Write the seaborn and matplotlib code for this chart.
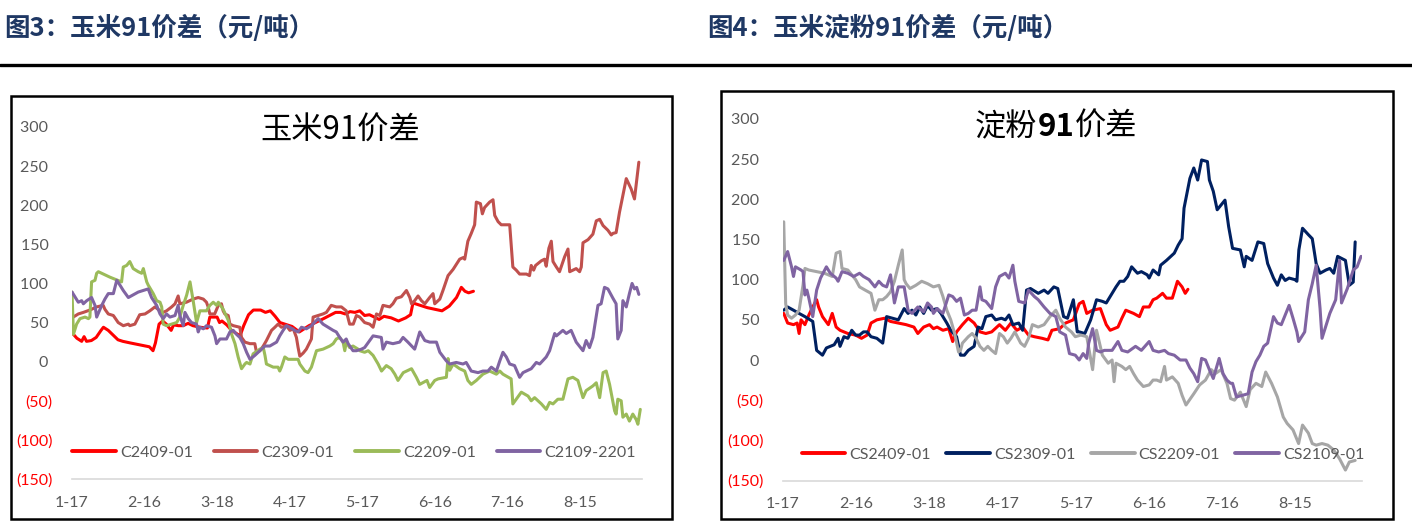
import pandas as pd
import matplotlib
matplotlib.use('Agg')
import matplotlib.pyplot as plt
from matplotlib.lines import Line2D
from matplotlib.patches import Rectangle
import seaborn as sns

sns.set_style('white')
plt.rcParams['font.family'] = ['Lato', 'Noto Sans CJK SC', 'DejaVu Sans']
plt.rcParams['axes.unicode_minus'] = False

# x axis: days counted from 1-17, ticks every 30 days
date_ticks = [0, 30, 60, 90, 120, 150, 180, 210]
date_labels = ['1-17', '2-16', '3-18', '4-17', '5-17', '6-16', '7-16', '8-15']
y_ticks = [-150, -100, -50, 0, 50, 100, 150, 200, 250, 300]

# ---- 图3 玉米91价差 ----
corn_names = ['C2409-01', 'C2309-01', 'C2209-01', 'C2109-2201']
corn_colors = ['#FF0000', '#C0504D', '#9BBB59', '#8064A2']

c2409_day = [0, 2, 4, 5, 6, 8, 10, 12, 13, 15,
             17, 19, 21, 24, 32, 33.5, 34.5, 36, 37.5, 39,
             41, 42, 44, 46, 48, 50, 53, 56, 57, 60,
             61, 62, 64, 66, 68, 69.5, 71, 73, 75, 78,
             80, 82, 84, 86, 88, 91, 94, 98, 104, 109,
             111, 113, 115, 117, 119, 121, 123, 125, 127, 129,
             132, 135, 138, 140, 141, 143, 147, 150, 153, 156,
             159, 161, 162.5, 164, 166]
c2409_val = [37, 30, 26, 32, 26, 27, 31, 40, 44, 40,
             34, 28, 26, 24, 19, 14, 24, 48, 52, 48,
             40, 47, 46, 46, 49, 46, 44, 43, 57, 57,
             50, 52, 47, 40, 36, 33, 46, 60, 66, 66,
             63, 65, 58, 50, 48, 45, 38, 46, 55, 63,
             63, 61, 64, 63, 65, 59, 60, 57, 54, 58,
             56, 52, 56, 60, 75, 73, 69, 67, 65, 71,
             82, 95, 90, 88, 90]

c2309_day = [0, 2.6, 4.7, 7.4, 10.2, 12.9, 13.6, 15, 17.1, 19.1,
             21.2, 23.3, 23.9, 26, 28, 30.2, 32.2, 34.3, 36.4, 37.7,
             39.1, 41.2, 42.6, 43.9, 44.6, 47.3, 50.1, 52.2, 54.3, 55.6,
             56.3, 57, 59, 60.5, 61.8, 62.5, 63.2, 64.6, 65.3, 66.7,
             69.4, 70.1, 71.5, 73.6, 75.6, 76.3, 77.7, 79.1, 80.4, 82.5,
             83.9, 85.2, 86.6, 88.7, 90.1, 91.5, 92.8, 93.5, 94.2, 95.6,
             96.9, 99, 99.7, 103.8, 105.2, 107.2, 109.3, 111.4, 113.4, 114.8,
             116.3, 117.6, 119, 121, 123.1, 124.5, 125.9, 127.3, 128.6, 131.4,
             132.7, 134.1, 136.2, 138.3, 139.7, 140.4, 141.7, 143.1, 144.5, 145.9,
             147.9, 149.3, 150, 152.1, 153.4, 155.5, 157.6, 160.3, 161.7, 162.4,
             163.7, 165.1, 166.5, 167.2, 168.9, 169.7, 170.6, 172.7, 174.1, 174.8,
             176.2, 177.5, 181, 182.3, 183.7, 185.1, 187.9, 189.2, 189.9, 190.9,
             191.7, 194.1, 195.4, 196.1, 197.2, 198.2, 198.9, 200.3, 201.6, 203.7,
             205.1, 205.8, 207.1, 208.5, 209.9, 210.6, 211.3, 213.4, 215.4, 216.8,
             218.2, 219.6, 221.6, 223, 223.7, 225, 226.4, 229.2, 231.2, 232.6,
             234.4]
c2309_val = [56, 61, 63, 66, 70, 72, 67, 61, 59, 50,
             46, 48, 46, 48, 60, 61, 65, 70, 65, 63,
             65, 70, 74, 84, 74, 76, 80, 82, 80, 76,
             70, 61, 61, 72, 74, 65, 61, 59, 48, 46,
             44, 31, 25, 23, 23, 12, 14, 20, 27, 40,
             44, 48, 44, 46, 40, 42, 31, 18, 7, 11,
             16, 29, 57, 61, 63, 72, 70, 70, 65, 48,
             48, 59, 57, 50, 48, 44, 61, 59, 72, 70,
             74, 81, 83, 91, 82, 74, 78, 84, 78, 74,
             82, 87, 74, 80, 91, 110, 118, 131, 133, 131,
             154, 164, 175, 204, 202, 189, 197, 204, 207, 187,
             179, 175, 175, 121, 117, 112, 112, 110, 123, 117,
             123, 129, 131, 122, 145, 154, 128, 121, 115, 134,
             144, 115, 117, 119, 115, 121, 152, 156, 163, 180,
             182, 174, 168, 162, 164, 165, 191, 234, 221, 208,
             255]

c2209_day = [0, 0.6, 1.9, 3.3, 5.4, 6.8, 7.4, 8.1, 9.5, 10.2,
             10.9, 15.7, 20.5, 21.2, 22.6, 23.9, 25.3, 27.4, 28.8, 29.5,
             30.9, 31.5, 33.6, 35, 36.4, 37.1, 37.7, 39.1, 41.2, 43.3,
             44.6, 46, 47.4, 48.8, 50.1, 51.5, 52.9, 55.6, 57, 58.4,
             59.8, 60.5, 62.5, 64.6, 66, 67.4, 68.7, 70.1, 71.5, 72.2,
             73.6, 74.9, 77.7, 79.1, 79.8, 80.4, 83.2, 85.2, 85.9, 86.6,
             88, 89.4, 91.5, 93.5, 94.2, 96.3, 97.6, 99, 101.1, 103.8,
             106.6, 108, 109.3, 110.7, 112.1, 112.8, 113.4, 114.8, 116.2, 118.3,
             119, 121, 122.5, 124.5, 126.6, 128, 130, 132, 133.5, 134.8,
             137, 140.4, 142.4, 143.8, 146.8, 147.9, 150, 151.4, 154.8, 155.5,
             156.2, 157.6, 160.3, 162.4, 163.7, 165.1, 167.2, 169.9, 172.7, 175.5,
             176.9, 178.2, 181.6, 182.3, 183.7, 185.8, 188.6, 189.9, 191.3, 194.1,
             196.1, 197.5, 198.9, 200.9, 203, 205.1, 207.1, 209.2, 211.3, 212.6,
             215.4, 216.8, 218.2, 219.6, 220.9, 222.3, 224.4, 225, 225.7, 227.1,
             227.8, 229.2, 230.5, 231.9, 233.3, 234, 235]
c2209_val = [89, 35, 48, 55, 57, 55, 57, 102, 104, 113,
             115, 108, 102, 121, 123, 128, 119, 115, 113, 119,
             102, 98, 87, 78, 76, 70, 48, 46, 48, 50,
             57, 72, 85, 102, 78, 50, 65, 65, 72, 76,
             72, 76, 67, 53, 35, 23, 6, -9, -3, -1,
             -3, 10, 16, 18, 8, -3, -7, -7, -12, -7,
             6, 3, 3, 3, -3, -12, -14, -7, 14, 16,
             20, 23, 29, 31, 25, 14, 25, 18, 20, 16,
             14, 12, 14, 8, -3, -12, -5, -9, -16, -24,
             -14, -9, -20, -29, -24, -33, -24, -22, -20, 4,
             -11, -3, -9, -12, -24, -29, -24, -16, -12, -16,
             -12, -16, -22, -54, -48, -39, -44, -50, -46, -54,
             -61, -52, -54, -48, -48, -22, -20, -24, -46, -37,
             -31, -27, -46, -14, -12, -29, -63, -67, -48, -50,
             -71, -67, -76, -67, -74, -80, -61]

c2109_day = [0, 2.6, 4, 4.7, 6.1, 8.1, 9.5, 10.2, 12.3, 13.6,
             15, 17.1, 18.5, 19.8, 21.2, 23.3, 27.4, 31.5, 32.9, 35,
             36.4, 37.7, 39.1, 40.5, 42.6, 43.9, 44.6, 46, 46.7, 48.1,
             49.4, 51.5, 52.2, 52.9, 54.3, 55.6, 57.7, 59.1, 59.8, 61.2,
             63.9, 65.3, 66.7, 68, 69.4, 70.8, 72.2, 73.6, 75.6, 77.7,
             79.8, 81.8, 84.6, 85.9, 87.3, 88.7, 90.1, 92.1, 93.5, 94.9,
             96.9, 99, 101.8, 103.8, 105.9, 108, 109.3, 110.7, 112.1, 113.4,
             114.2, 116.2, 117.6, 119.7, 121, 123.1, 124.5, 127.9, 128.6, 130,
             132.7, 135.5, 136.9, 138.9, 141.7, 142.4, 143.8, 145.9, 147.9, 150.7,
             152.1, 154.8, 156.2, 158.9, 161.7, 163, 165.1, 167.9, 169.9, 172,
             173.4, 175.5, 176.9, 178.2, 179.6, 181, 183, 185.1, 186.5, 187.9,
             189.9, 192, 193.4, 196.1, 197.5, 199.6, 200.3, 203, 204.4, 206.4,
             208.5, 211.3, 212.6, 214, 215.4, 217.5, 218.8, 220.2, 221.6, 223.7,
             225, 225.7, 227.1, 227.8, 229.2, 230.5, 231.6, 232.6, 233.5, 234.4]
c2109_val = [89, 76, 78, 74, 78, 82, 72, 57, 72, 80,
             87, 87, 104, 98, 91, 82, 89, 93, 82, 72,
             61, 55, 61, 57, 59, 72, 59, 46, 63, 55,
             50, 48, 38, 44, 42, 46, 44, 33, 23, 29,
             29, 38, 40, 35, 31, 23, 12, 3, 8, 14,
             20, 20, 25, 33, 40, 46, 44, 40, 38, 44,
             42, 46, 55, 48, 44, 40, 38, 31, 25, 29,
             23, 14, 14, 16, 18, 27, 33, 31, 16, 25,
             23, 25, 31, 25, 16, 23, 38, 27, 25, 25,
             12, 1, -3, -1, -3, -1, -12, -14, -12, -12,
             -7, -12, 1, 12, 6, -3, -5, -20, -14, -12,
             -9, -1, -3, 6, 14, 36, 33, 40, 36, 40,
             25, 14, 27, 18, 31, 72, 74, 95, 93, 81,
             74, 29, 40, 78, 70, 87, 100, 93, 95, 86]

# ---- 图4 玉米淀粉91价差 ----
starch_names = ['CS2409-01', 'CS2309-01', 'CS2209-01', 'CS2109-01']
starch_colors = ['#FF0000', '#002060', '#A6A6A6', '#8064A2']

cs2409_day = [0.3, 1.9, 4.3, 5.8, 6.6, 7.4, 9, 10.6, 12.2, 13.8,
              14.6, 16.2, 18.6, 20.2, 21.8, 23.4, 26.6, 29.8, 32.2, 34.5,
              36.1, 38.5, 41.7, 44.1, 47.3, 50.5, 53.7, 55.3, 57.7, 60.1,
              61.7, 63.2, 65.6, 68, 69.6, 71.2, 73.6, 76, 78.4, 80.8,
              83.2, 85.6, 88.8, 91.2, 93.5, 95.9, 98.3, 100.7, 103.1, 106.3,
              108.7, 110.3, 113.5, 115.9, 119.1, 121.5, 123.1, 124.6, 127, 130.2,
              132.6, 134.2, 137.4, 139, 140.6, 143.8, 146.2, 147.8, 150.2, 151.8,
              153.3, 154.1, 155.7, 157.3, 159.7, 161.8, 163.7, 165, 166.1]
cs2409_val = [58, 46, 44, 46, 33, 50, 44, 56, 66, 75,
              66, 54, 44, 58, 41, 37, 33, 31, 27, 31,
              46, 50, 52, 48, 46, 44, 41, 33, 41, 44,
              39, 41, 37, 39, 23, 35, 44, 52, 46, 35,
              33, 35, 44, 37, 46, 37, 41, 31, 29, 27,
              25, 37, 39, 46, 50, 70, 73, 58, 62, 64,
              44, 37, 41, 52, 62, 58, 54, 66, 66, 75,
              77, 79, 83, 77, 77, 98, 91, 83, 88]

cs2309_day = [0.3, 1.9, 4.3, 6.6, 9, 12.2, 13.8, 16.2, 17.8, 19.4,
              21, 22.6, 23.4, 25, 26.6, 28.2, 29.8, 31.4, 33, 34.5,
              36.1, 38.5, 40.9, 42.5, 44.9, 47.3, 49.7, 51.3, 52.9, 54.5,
              56.1, 57.7, 59.3, 60.9, 63.2, 64.8, 67.2, 68.8, 71.2, 72.8,
              74.4, 76, 78.4, 80, 81.6, 83.2, 85.6, 87.2, 89.6, 91.2,
              92.7, 94.3, 96.7, 98.3, 99.9, 101.5, 104.7, 107.1, 108.7, 111.1,
              112.7, 115.1, 116.7, 119.1, 120.7, 121.5, 123.8, 126.2, 128.6, 131,
              132.6, 134.2, 136.6, 138.2, 139.8, 141.4, 143, 145.4, 147, 149.4,
              150.2, 151.8, 154.1, 154.9, 157.3, 160.5, 162.1, 163.7, 164.5, 166.9,
              168.5, 170.1, 171.7, 174.1, 174.9, 176.5, 178.1, 181.3, 182.8, 184.4,
              187.6, 189.2, 190, 192.4, 194.8, 197.2, 198.8, 201.2, 202.8, 204.4,
              206, 207.6, 210, 210.8, 211.6, 213.1, 215.5, 217.1, 218.7, 220.3,
              222.7, 224.3, 225.9, 227.5, 230.7, 232.3, 233.9, 234.7]
cs2309_val = [62, 66, 62, 58, 54, 48, 12, 6, 15, 17,
              19, 27, 17, 29, 27, 37, 31, 31, 35, 35,
              29, 27, 21, 54, 52, 50, 64, 58, 62, 56,
              66, 58, 68, 62, 64, 58, 46, 37, 29, 6,
              6, 12, 17, 41, 39, 54, 56, 50, 52, 50,
              56, 44, 46, 37, 87, 89, 83, 87, 83, 91,
              89, 54, 52, 75, 35, 35, 33, 50, 75, 73,
              71, 79, 91, 98, 98, 104, 116, 108, 110, 106,
              102, 112, 106, 118, 124, 133, 143, 151, 189, 226,
              239, 224, 249, 247, 224, 210, 187, 199, 166, 139,
              137, 116, 129, 124, 147, 145, 120, 102, 93, 106,
              99, 102, 100, 98, 137, 164, 156, 151, 120, 108,
              112, 114, 108, 129, 124, 93, 97, 147]

cs2209_day = [0.3, 1.1, 1.9, 3.5, 5.1, 6.6, 8.2, 9, 10.6, 13.8,
              17, 20.2, 21.8, 23.4, 24.2, 26.6, 28.2, 29.8, 31.4, 33.7,
              36.1, 37.7, 39.3, 40.9, 42.5, 44.1, 45.7, 47.3, 48.9, 49.7,
              50.5, 52.1, 54.5, 56.9, 59.3, 61.7, 64, 65.6, 67.2, 68.8,
              70.4, 72, 72.8, 73.6, 76, 77.6, 79.2, 80.8, 82.4, 84,
              85.6, 87.2, 88.8, 90.4, 92, 93.5, 95.1, 97.5, 99.1, 100.7,
              102.3, 104.7, 107.1, 109.5, 111.9, 113.5, 115.9, 118.3, 119.9, 122.2,
              124.6, 127, 128.6, 131, 133.4, 135, 135.8, 136.6, 139, 140.6,
              142.2, 143.8, 145.4, 147.8, 150.2, 151.8, 153.3, 154.9, 156.5, 157.3,
              159.7, 162.1, 163.7, 165.3, 168.5, 170.9, 173.3, 175.7, 177.3, 179.7,
              182.1, 183.6, 185.2, 187.6, 190, 191.6, 194, 196.4, 198, 200.4,
              202.8, 205.2, 206.8, 209.2, 211.5, 213.1, 215.5, 217.1, 218.7, 221.1,
              223.5, 225.9, 228.3, 230.7, 232.3, 234.7]
cs2209_val = [172, 70, 56, 52, 56, 62, 93, 114, 112, 110,
              108, 104, 133, 135, 114, 112, 106, 100, 91, 87,
              83, 62, 75, 75, 79, 85, 98, 118, 137, 100,
              95, 89, 93, 98, 95, 91, 93, 79, 62, 50,
              33, 10, 12, 21, 29, 33, 27, 17, 12, 17,
              12, 8, 33, 29, 21, 27, 35, 21, 17, 27,
              44, 41, 44, 54, 62, 52, 41, 35, 29, 31,
              29, -12, 37, 6, -4, 0, -27, -4, -8, -12,
              -8, -17, -25, -33, -31, -25, -25, -27, -8, -25,
              -21, -29, -44, -56, -42, -31, -25, -12, -17, -12,
              -29, -48, -50, -40, -58, -37, -29, -33, -15, -29,
              -46, -71, -79, -87, -104, -81, -91, -104, -106, -104,
              -106, -112, -123, -137, -127, -125]

cs2109_day = [0.3, 1.9, 3.5, 4.3, 5.1, 7.4, 8.2, 9, 9.8, 10.6,
              12.2, 13.8, 15.4, 17.8, 19.4, 21.8, 22.6, 24.2, 26.6, 29,
              31.4, 33, 35.3, 37.7, 39.3, 40.9, 42.5, 44.1, 45.7, 47.3,
              49.7, 51.3, 52.9, 55.3, 57.7, 59.3, 60.9, 61.7, 63.2, 65.6,
              68, 69.6, 71.2, 72.8, 74.4, 76, 77.6, 79.2, 80.8, 81.6,
              83.2, 85.6, 87.2, 88.8, 91.2, 92.7, 94.3, 95.1, 96.7, 99.1,
              100.7, 103.1, 104.7, 107.1, 109.5, 111.9, 113.5, 115.9, 117.5, 119.9,
              121.5, 123.1, 124.6, 125.4, 127, 128.6, 130.2, 131.8, 135, 137.4,
              139, 141.4, 144.6, 147, 150.2, 151.8, 154.1, 156.5, 158.1, 160.5,
              162.9, 165.3, 166.9, 168.5, 170.1, 171.7, 173.3, 174.9, 176.5, 178.9,
              180.5, 182.1, 183.6, 184.4, 186, 188.4, 190.8, 192.4, 194, 195.6,
              197.2, 198.8, 201.2, 202.8, 204.4, 206, 207.6, 209.2, 210.8, 211.5,
              214, 215.5, 217.1, 218.7, 220.3, 221.1, 224.3, 226.7, 228.3, 229.1,
              231.5, 233.9, 235.5, 237.1]
cs2109_val = [124, 135, 116, 104, 116, 112, 110, 81, 87, 77,
              54, 87, 102, 116, 108, 102, 98, 110, 108, 104,
              108, 104, 100, 91, 98, 93, 91, 106, 71, 91,
              91, 62, 58, 66, 60, 71, 66, 58, 64, 58,
              81, 79, 73, 77, 56, 58, 62, 62, 91, 75,
              73, 64, 91, 104, 108, 102, 118, 98, 73, 71,
              87, 79, 75, 66, 58, 54, 35, 31, 8, 6,
              0, 8, 2, 21, 39, 12, 10, 12, 12, 23,
              12, 10, 17, 12, 23, 12, 10, 12, 8, 6,
              0, 0, -10, -17, -27, 2, 0, -12, -23, 2,
              -17, -25, -29, -29, -46, -44, -42, -15, -2, 6,
              17, 21, 54, 46, 44, 56, 68, 52, 35, 23,
              35, 75, 95, 118, 64, 27, 58, 75, 124, 71,
              89, 112, 116, 129]


def draw_panel(ax, names, days, vals, colors, xmax, legend_x, legend_y, colspace):
    frames = [pd.DataFrame({'day': d, 'value': v, 'series': n})
              for n, d, v in zip(names, days, vals)]
    df = pd.concat(frames, ignore_index=True)
    sns.lineplot(data=df, x='day', y='value', hue='series', hue_order=names,
                 palette=dict(zip(names, colors)), estimator=None, sort=False,
                 linewidth=2.2, legend=False, ax=ax)
    ax.set_xlim(0, xmax)
    ax.set_ylim(-150, 300)
    ax.set_xlabel('')
    ax.set_ylabel('')
    ax.set_xticks(date_ticks, date_labels)
    ax.set_yticks(y_ticks, [f'({abs(t)})' if t < 0 else f'{t} ' for t in y_ticks])
    for lab, t in zip(ax.get_yticklabels(), y_ticks):
        lab.set_color('#FF0000' if t < 0 else '#595959')
    ax.tick_params(axis='y', length=0, pad=14, labelsize=11.5)
    ax.tick_params(axis='x', length=0, pad=12, labelsize=11.5, labelcolor='#595959')
    for side in ['left', 'right', 'top']:
        ax.spines[side].set_visible(False)
    ax.spines['bottom'].set_color('#D9D9D9')
    ax.spines['bottom'].set_linewidth(1.2)
    ax.set_facecolor('none')
    handles = [Line2D([], [], color=c, lw=2.8) for c in colors]
    ax.legend(handles, names, ncol=4, loc='center left',
              bbox_to_anchor=(legend_x, legend_y), frameon=False, fontsize=11.5,
              handlelength=2.75, handletextpad=0.25, columnspacing=colspace,
              borderaxespad=0, borderpad=0, labelcolor='#595959')


W, H = 1412, 531
fig = plt.figure(figsize=(W / 100, H / 100), dpi=100)

# chart frames
fig.add_artist(Rectangle((11 / W, 1 - 519 / H), 661 / W, 423 / H, fill=False,
                         ec='black', lw=1.8, transform=fig.transFigure))
fig.add_artist(Rectangle((721 / W, 1 - 519 / H), 672 / W, 428 / H, fill=False,
                         ec='black', lw=1.8, transform=fig.transFigure))
# rule under the headers
fig.add_artist(Line2D([0, 1], [1 - 65 / H, 1 - 65 / H], color='black', lw=2.4,
                      transform=fig.transFigure))

ax1 = fig.add_axes([72 / W, 1 - 479 / H, 569.5 / W, 352 / H])
ax2 = fig.add_axes([783 / W, 1 - 480.5 / H, 579 / W, 361.5 / H])

draw_panel(ax1, corn_names, [c2409_day, c2309_day, c2209_day, c2109_day],
           [c2409_val, c2309_val, c2209_val, c2109_val], corn_colors,
           235.5, 0.0, 0.074, 1.3)
draw_panel(ax2, starch_names, [cs2409_day, cs2309_day, cs2209_day, cs2109_day],
           [cs2409_val, cs2309_val, cs2209_val, cs2109_val], starch_colors,
           237.5, 0.032, 0.071, 0.95)

# headers
head_kw = dict(ha='left', va='center', fontsize=18.4, fontweight='bold',
               color='#1F3864', family=['Noto Sans CJK SC', 'DejaVu Sans'])
fig.text(4 / W, 1 - 28 / H, '图3：玉米91价差（元/吨）', **head_kw)
fig.text(707 / W, 1 - 28 / H, '图4：玉米淀粉91价差（元/吨）', **head_kw)

# chart titles
fig.text(340 / W, 1 - 131 / H, '玉米91价差', ha='center', va='center', fontsize=22.5,
         family=['Noto Sans CJK SC'], color='black')

# right title with bold "91"
renderer = fig.canvas.get_renderer()
parts = [('淀粉', 'normal'), ('91', 'bold'), ('价差', 'normal')]
texts = [fig.text(0, 1 - 127 / H, s, ha='left', va='center', fontsize=22.5,
                  fontweight=w, family=['Noto Sans CJK SC'], color='black')
         for s, w in parts]
widths = [t.get_window_extent(renderer).width for t in texts]
x = 1056 - sum(widths) / 2
for t, w in zip(texts, widths):
    t.set_x(x / W)
    x += w

fig.savefig('out.png', dpi=100)
